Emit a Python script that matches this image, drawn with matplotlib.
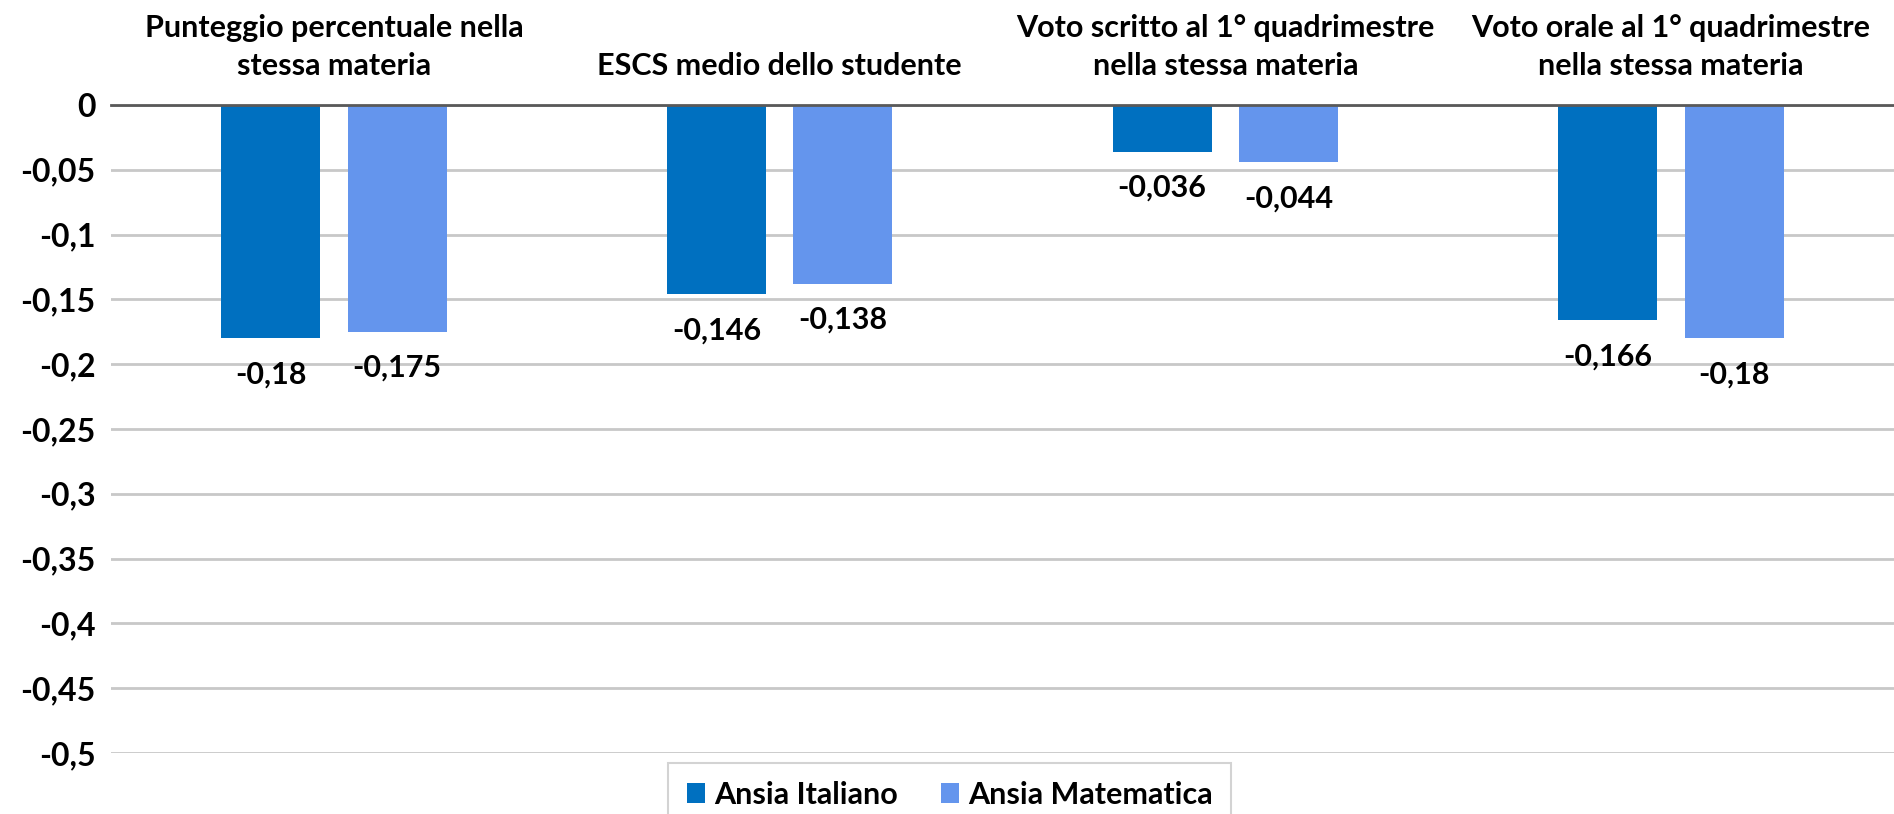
import matplotlib
matplotlib.use("Agg")
import matplotlib.pyplot as plt
import numpy as np

# data
categories = [
    "Punteggio percentuale nella\nstessa materia",
    "ESCS medio dello studente",
    "Voto scritto al 1° quadrimestre\nnella stessa materia",
    "Voto orale al 1° quadrimestre\nnella stessa materia",
]
ansia_italiano = [-0.18, -0.146, -0.036, -0.166]
ansia_matematica = [-0.175, -0.138, -0.044, -0.18]
series_names = ["Ansia Italiano", "Ansia Matematica"]
y_ticks = [0, -0.05, -0.1, -0.15, -0.2, -0.25, -0.3, -0.35, -0.4, -0.45, -0.5]

DARK = "#0070C0"
LIGHT = "#6495ED"
FONT = ["Lato", "DejaVu Sans"]


def it_num(v):
    # italian decimal comma
    return ("%g" % v).replace(".", ",")


plt.rcParams["font.family"] = FONT
plt.rcParams["font.weight"] = "bold"

fig = plt.figure(figsize=(18.94, 8.14), dpi=100)
ax = fig.add_axes([0.0586, 0.075, 0.9414, 0.796])

x = np.arange(len(categories))
w = 0.222
off = 0.142
b1 = ax.bar(x - off, ansia_italiano, w, color=DARK, label=series_names[0], zorder=3)
b2 = ax.bar(x + off, ansia_matematica, w, color=LIGHT, label=series_names[1], zorder=3)

for bars, vals in ((b1, ansia_italiano), (b2, ansia_matematica)):
    for rect, v in zip(bars, vals):
        ax.annotate(it_num(v), (rect.get_x() + rect.get_width() / 2, v),
                    xytext=(0, -16), textcoords="offset points",
                    ha="center", va="top", fontsize=22, fontweight="bold",
                    color="black")

ax.set_xlim(-0.5, len(categories) - 0.5)
ax.set_ylim(-0.5, 0)
ax.set_yticks(y_ticks)
ax.set_yticklabels([it_num(t) for t in y_ticks])
ax.tick_params(axis="y", length=0, pad=11, labelsize=23)

ax.xaxis.tick_top()
ax.set_xticks(x)
ax.set_xticklabels(categories, fontsize=22, fontweight="bold", linespacing=1.45)
ax.tick_params(axis="x", length=0, pad=18)

for s in ax.spines.values():
    s.set_visible(False)
ax.yaxis.grid(True, color="#c8c8c8", linewidth=2, zorder=0)
ax.axhline(0, color="#595959", linewidth=2, zorder=4, clip_on=False)

leg = fig.legend(loc="lower center", bbox_to_anchor=(0.5015, -0.035), ncol=2,
                 fontsize=22, frameon=True, fancybox=False,
                 handlelength=0.6, handleheight=0.6, handletextpad=0.3,
                 columnspacing=1.4, borderpad=0.6)
leg.get_frame().set_edgecolor("#c8c8c8")
leg.get_frame().set_linewidth(1.5)
for t in leg.get_texts():
    t.set_fontweight("bold")

fig.savefig("out.png", dpi=100)
